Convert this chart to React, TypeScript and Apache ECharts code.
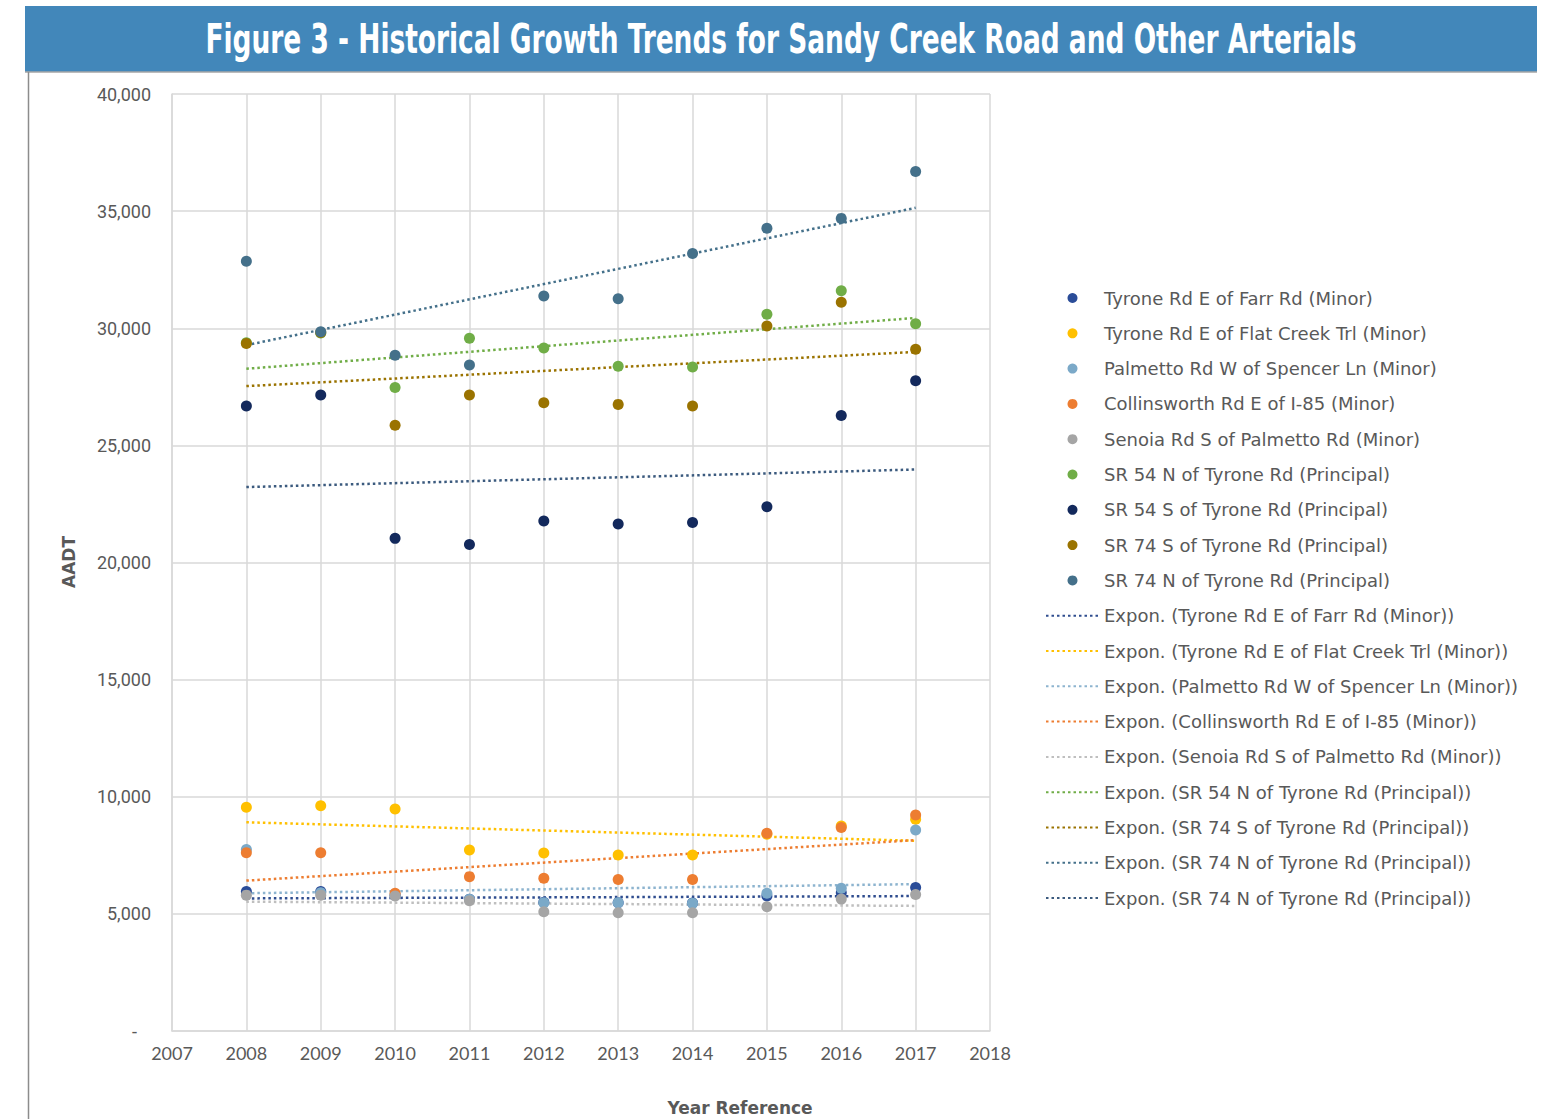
import React, { useEffect, useRef } from "react";
import * as echarts from "echarts";

const years = [2008, 2009, 2010, 2011, 2012, 2013, 2014, 2015, 2016, 2017];

const seriesNames = [
  "Tyrone Rd E of Farr Rd (Minor)",
  "Tyrone Rd E of Flat Creek Trl (Minor)",
  "Palmetto Rd W of Spencer Ln (Minor)",
  "Collinsworth Rd E of I-85 (Minor)",
  "Senoia Rd S of Palmetto Rd (Minor)",
  "SR 54 N of Tyrone Rd (Principal)",
  "SR 54 S of Tyrone Rd (Principal)",
  "SR 74 S of Tyrone Rd (Principal)",
  "SR 74 N of Tyrone Rd (Principal)",
];

const tyroneFarr = [5950, 5950, 5800, 5620, 5500, 5480, 5460, 5760, 5900, 6130];
const tyroneFlatCreek = [9550, 9620, 9480, 7730, 7600, 7510, 7510, 8400, 8750, 9040];
const palmetto = [7750, 5900, 5800, 5620, 5480, 5480, 5450, 5880, 6090, 8580];
const collinsworth = [7610, 7610, 5880, 6590, 6520, 6470, 6470, 8440, 8690, 9220];
const senoia = [5800, 5800, 5760, 5560, 5090, 5050, 5050, 5300, 5630, 5830];
const sr54N = [29380, 29800, 27470, 29570, 29160, 28380, 28350, 30600, 31600, 30190];
const sr54S = [26680, 27150, 21030, 20770, 21770, 21640, 21710, 22380, 26280, 27760];
const sr74S = [29350, 29820, 25860, 27150, 26820, 26750, 26680, 30100, 31110, 29100];
const sr74N = [32860, 29850, 28850, 28430, 31380, 31260, 33190, 34270, 34690, 36690];

const seriesValues = [tyroneFarr, tyroneFlatCreek, palmetto, collinsworth, senoia, sr54N, sr54S, sr74S, sr74N];

const pointColors = ["#2A4C98", "#FFC000", "#7BA9C8", "#ED7D31", "#A5A5A5", "#70AD47", "#13295C", "#9A7300", "#44708A"];

// Trendline labels (as printed in the legend) and their end values at 2008 / 2017
const trendNames = [
  "Expon. (Tyrone Rd E of Farr Rd (Minor))",
  "Expon. (Tyrone Rd E of Flat Creek Trl (Minor))",
  "Expon. (Palmetto Rd W of Spencer Ln (Minor))",
  "Expon. (Collinsworth Rd E of I-85 (Minor))",
  "Expon. (Senoia Rd S of Palmetto Rd (Minor))",
  "Expon. (SR 54 N of Tyrone Rd (Principal))",
  "Expon. (SR 74 S of Tyrone Rd (Principal))",
  "Expon. (SR 74 N of Tyrone Rd (Principal))",
  "Expon. (SR 74 N of Tyrone Rd (Principal))\u200B",
];
const trendStart = [5660, 8910, 5880, 6420, 5520, 28270, 27530, 29280, 23220];
const trendEnd = [5760, 8120, 6270, 8150, 5340, 30440, 28990, 35140, 23970];
const trendColors = ["#2F4D8F", "#FFC000", "#8DB4CF", "#ED7D31", "#BFBFBF", "#70AD47", "#9A7300", "#44708A", "#3B5A7E"];

const yTicks = { min: 0, max: 40000, interval: 5000 };
const xTicks = { min: 2007, max: 2018, interval: 1 };

const TEXT = "#595959";

export default function App() {
  const ref = useRef<HTMLDivElement>(null);

  useEffect(() => {
    if (!ref.current) return;
    const chart = echarts.init(ref.current, undefined, { renderer: "svg" });

    const scatterSeries = seriesNames.map((name, i) => ({
      name,
      type: "scatter",
      symbol: "circle",
      symbolSize: 11,
      z: 3,
      itemStyle: { color: pointColors[i], opacity: 1 },
      data: years.map((y, j) => [y, seriesValues[i][j]]),
    }));

    const trendSeries = trendNames.map((name, i) => ({
      name,
      type: "line",
      symbol: "none",
      showSymbol: false,
      z: 2,
      lineStyle: { color: trendColors[i], width: 2.5, type: [2.5, 3] },
      itemStyle: { color: trendColors[i] },
      data: [
        [years[0], trendStart[i]],
        [years[years.length - 1], trendEnd[i]],
      ],
    }));

    const option = {
      animation: false,
      backgroundColor: "#ffffff",
      grid: { left: 172, right: 555, top: 94, bottom: 88, containLabel: false },
      xAxis: {
        type: "value",
        min: xTicks.min,
        max: xTicks.max,
        interval: xTicks.interval,
        axisLine: { show: true, lineStyle: { color: "#D9D9D9", width: 1.5 } },
        axisTick: { show: false },
        splitLine: { show: true, lineStyle: { color: "#D9D9D9", width: 1.5 } },
        axisLabel: {
          color: TEXT,
          fontFamily: "Lato, sans-serif",
          fontSize: 18,
          margin: 13,
          formatter: (v: number) => String(v),
        },
      },
      yAxis: {
        type: "value",
        min: yTicks.min,
        max: yTicks.max,
        interval: yTicks.interval,
        axisLine: { show: true, lineStyle: { color: "#D9D9D9", width: 1.5 } },
        axisTick: { show: false },
        splitLine: { show: true, lineStyle: { color: "#D9D9D9", width: 1.5 } },
        axisLabel: {
          color: TEXT,
          fontFamily: "Roboto, sans-serif",
          fontSize: 18,
          margin: 21,
          formatter: (v: number) => (v === 0 ? "{d|-}" : v.toLocaleString("en-US")),
          rich: { d: { color: TEXT, fontFamily: "Roboto, sans-serif", fontSize: 18, padding: [0, 14, 0, 0] } },
        },
      },
      legend: {
        orient: "vertical",
        left: 1045,
        top: 288,
        padding: 0,
        itemWidth: 53,
        itemHeight: 10,
        itemGap: 15.3,
        textStyle: { color: TEXT, fontFamily: "'DejaVu Sans', sans-serif", fontSize: 18, lineHeight: 20 },
        data: [
          ...seriesNames,
          ...trendNames.map((name) => ({ name, itemStyle: { opacity: 0 } })),
        ],
      },
      graphic: [
        { type: "rect", left: 25, top: 6, shape: { width: 1512, height: 66 }, style: { fill: "#4287BA" } },
        { type: "line", shape: { x1: 25, y1: 72, x2: 1537, y2: 72 }, style: { stroke: "#A6A6A6", lineWidth: 1.5 } },
        { type: "line", shape: { x1: 28.5, y1: 72, x2: 28.5, y2: 1119 }, style: { stroke: "#8C8C8C", lineWidth: 1.5 } },
        {
          type: "text",
          x: 781,
          y: 39,
          scaleY: 1.4,
          style: {
            text: "Figure 3 - Historical Growth Trends for Sandy Creek Road and Other Arterials",
            fill: "#ffffff",
            font: "bold 29.4px 'Liberation Sans Narrow', 'DejaVu Sans Condensed', sans-serif",
            textAlign: "center",
            textVerticalAlign: "middle",
          },
        },
        {
          type: "text",
          x: 69,
          y: 562,
          rotation: Math.PI / 2,
          style: {
            text: "AADT",
            fill: TEXT,
            font: "bold 17px 'DejaVu Sans', sans-serif",
            textAlign: "center",
            textVerticalAlign: "middle",
          },
        },
        {
          type: "text",
          x: 740,
          y: 1108,
          style: {
            text: "Year Reference",
            fill: TEXT,
            font: "bold 17px 'DejaVu Sans', sans-serif",
            textAlign: "center",
            textVerticalAlign: "middle",
          },
        },
      ],
      series: [...trendSeries, ...scatterSeries],
    };

    chart.setOption(option as any);
    return () => chart.dispose();
  }, []);

  return (
    <div
      ref={ref}
      style={{ position: "absolute", left: 0, top: 0, width: 1545, height: 1119 }}
    />
  );
}
